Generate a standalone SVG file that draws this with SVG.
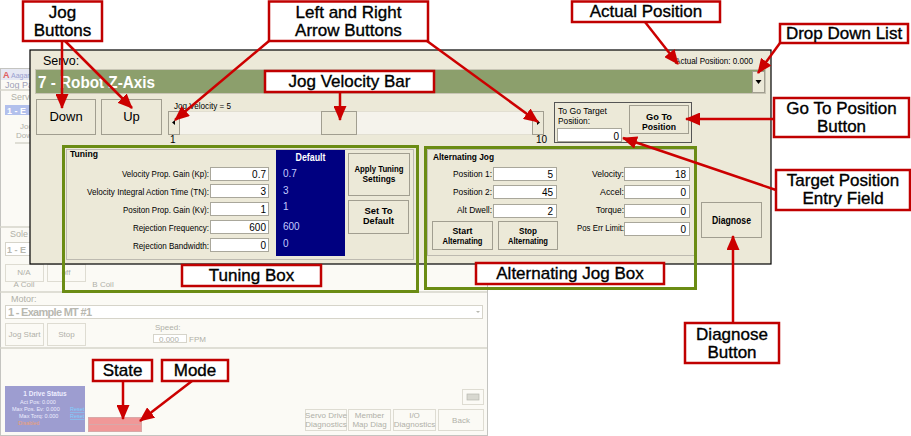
<svg xmlns="http://www.w3.org/2000/svg" width="911" height="436" viewBox="0 0 911 436">
<defs>
<marker id="ah" markerUnits="userSpaceOnUse" markerWidth="15" markerHeight="13" refX="14" refY="6.5" orient="auto"><path d="M0,0 L15,6.5 L0,13 z" fill="#cc0000"/></marker>
</defs>
<style>
text{font-family:"Liberation Sans",Arial,sans-serif}
.lbl rect{fill:#fff;stroke:#c00000;stroke-width:2.5}
.lbl text{font-size:17px;fill:#000;stroke:#000;stroke-width:0.35;text-anchor:middle}
#connectors line{stroke:#cc0000;stroke-width:2.5;marker-end:url(#ah)}
.fade{fill:#b0b0a8;font-size:8px}
.fc{text-anchor:middle}
.fbtn{fill:#fbfaf5;stroke:#dedcd2}
.fline{stroke:#d6d4ca;stroke-width:1.5}
.btn{fill:#ece9d8;stroke:#a19e90}
.fld{fill:#fff;stroke:#a9a79b}
.ui{font-size:9.5px;fill:#000}
.uib{font-size:10px;font-weight:bold;fill:#000;text-anchor:middle}
.uib2{font-size:8.5px;font-weight:bold;fill:#000;text-anchor:middle}
.val{font-size:10px;fill:#000;text-anchor:end}
.dv{font-size:10px;fill:#c4ccff}
.green{fill:none;stroke:#6b8c14;stroke-width:3}
.frame{fill:none;stroke:#bdbab0}
</style>
<rect x="0" y="0" width="911" height="436" fill="#fff"/>

<g id="background-window">
<rect x="0.5" y="68.5" width="487" height="367" fill="#fbfaf5" stroke="#c4c4c0"/>
<rect x="1" y="69" width="29" height="11" fill="#e6e8f3"/>
<text x="3" y="78" font-size="9" font-weight="bold" fill="#e06060">A</text>
<text x="11" y="78" font-size="7" fill="#9aa0d0">Aagar</text>
<text x="5" y="88" font-size="9" fill="#a0a0b8">Jog Pa</text>
<line x1="0" y1="90" x2="30" y2="90" class="fline"/>
<text x="11" y="100" font-size="9" fill="#b0b0a8">Servo</text>
<rect x="5" y="105" width="25" height="10" fill="#b2c0ec"/>
<text x="7" y="114" font-size="9" font-weight="bold" fill="#fff">1 - E</text>
<text x="20" y="129" class="fade">Jog</text>
<text x="16" y="138" class="fade">Dow</text>
<line x1="15" y1="143" x2="30" y2="143" class="fline"/>
<line x1="0" y1="227" x2="30" y2="227" class="fline"/>
<text x="10" y="237" font-size="9" fill="#b0b0a8">Sole</text>
<rect x="5.5" y="242.5" width="25" height="13" fill="#fff" stroke="#d6d4ca"/>
<text x="7" y="253" font-size="9" font-weight="bold" fill="#b8b8b0">1 - E</text>
<rect x="5.5" y="264.5" width="38" height="17" class="fbtn"/>
<text x="24" y="275" class="fade fc">N/A</text>
<rect x="47.5" y="264.5" width="38" height="17" class="fbtn"/>
<text x="66" y="275" class="fade fc">off</text>
<text x="24" y="287" class="fade fc" font-size="6">A Coil</text>
<text x="103" y="287" class="fade fc" font-size="6">B Coil</text>
<line x1="0" y1="292" x2="487" y2="292" class="fline"/>
<text x="11" y="302" font-size="9" fill="#b0b0a8">Motor:</text>
<rect x="5.5" y="305.5" width="477" height="13" fill="#fff" stroke="#d6d4ca"/>
<text x="8" y="316" font-size="11" font-weight="bold" fill="#b8b8b0" textLength="84">1 - Example MT #1</text>
<path d="M476,311 L480,311 L478,313 z" fill="#b8b8b0"/>
<rect x="5.5" y="323.5" width="38" height="22" class="fbtn"/>
<text x="24.5" y="337" class="fade fc">Jog Start</text>
<rect x="47.5" y="323.5" width="38" height="22" class="fbtn"/>
<text x="66.5" y="337" class="fade fc">Stop</text>
<text x="155" y="330" class="fade">Speed:</text>
<rect x="153.5" y="334.5" width="33" height="8" fill="#fff" stroke="#d6d4ca"/>
<text x="179" y="342" class="fade" font-size="6" text-anchor="end">0.000</text>
<text x="189" y="342" class="fade" font-size="6">FPM</text>
<line x1="0" y1="348" x2="487" y2="348" class="fline"/>
<rect x="5" y="386" width="80" height="46" fill="#9d9dd0"/>
<text x="45" y="396" font-size="6.5" font-weight="bold" fill="#eef" text-anchor="middle">1 Drive Status</text>
<text x="20" y="404" font-size="5.5" fill="#eef">Act Pos:  0.000</text>
<text x="12" y="411" font-size="5.5" fill="#eef">Max Pos. Ev: 0.000</text>
<text x="70" y="411" font-size="5.5" fill="#7fd0ff" text-decoration="underline">Reset</text>
<text x="19" y="418" font-size="5.5" fill="#eef">Max Torq: 0.000</text>
<text x="70" y="418" font-size="5.5" fill="#7fd0ff" text-decoration="underline">Reset</text>
<text x="18" y="425" font-size="5.5" fill="#f0a070">Disabled</text>
<rect x="88.5" y="417.5" width="53" height="7" fill="#f09898" stroke="#d8a8a8"/>
<rect x="88.5" y="424.5" width="53" height="7" fill="#f09898" stroke="#d8a8a8"/>
<rect x="462.5" y="389.5" width="21" height="15" class="fbtn"/>
<rect x="467" y="394" width="12" height="6" fill="#d8d8d0" stroke="#b8b8b0" stroke-width="0.7"/>
<rect x="305.5" y="409.5" width="41" height="21" class="fbtn"/>
<text x="326" y="418" class="fade fc" font-size="6.5">Servo Drive</text>
<text x="326" y="427" class="fade fc" font-size="6.5">Diagnostics</text>
<rect x="348.5" y="409.5" width="42" height="21" class="fbtn"/>
<text x="369.5" y="418" class="fade fc" font-size="6.5">Member</text>
<text x="369.5" y="427" class="fade fc" font-size="6.5">Map Diag</text>
<rect x="393.5" y="409.5" width="42" height="21" class="fbtn"/>
<text x="414.5" y="418" class="fade fc" font-size="6.5">I/O</text>
<text x="414.5" y="427" class="fade fc" font-size="6.5">Diagnostics</text>
<rect x="438.5" y="409.5" width="45" height="21" class="fbtn"/>
<text x="461" y="423" class="fade fc" font-size="6.5">Back</text>
</g>

<g id="servo-panel">
<rect x="30" y="50" width="741" height="214" fill="#ece9d8" stroke="#000" stroke-width="1.2"/>
<text x="43" y="65" font-size="12.5">Servo:</text>
<text x="675" y="64" font-size="9.5" textLength="78" lengthAdjust="spacingAndGlyphs">Actual Position: 0.000</text>
<rect x="35.5" y="69.5" width="730" height="24" fill="#8c9f6c" stroke="#c8c5b5"/>
<text x="38" y="88" font-size="16" font-weight="bold" fill="#fff" textLength="117" lengthAdjust="spacingAndGlyphs">7 - Robot Z-Axis</text>
<rect x="752.5" y="71.5" width="12" height="21" class="btn"/>
<path d="M755.5,80 L761.5,80 L758.5,84 z" fill="#000"/>
<rect x="36.5" y="99.5" width="59" height="35" class="btn"/>
<text x="66" y="121" font-size="13" text-anchor="middle">Down</text>
<rect x="101.5" y="99.5" width="60" height="35" class="btn"/>
<text x="131.5" y="121" font-size="13" text-anchor="middle">Up</text>
<text x="174" y="109" font-size="9" textLength="57" lengthAdjust="spacingAndGlyphs">Jog Velocity = 5</text>
<rect x="168.5" y="111.5" width="375" height="23" fill="#f5f3ec" stroke="#e2dfd2"/>
<rect x="168.5" y="111.5" width="11" height="23" class="btn"/>
<path d="M175,120 L172,122.5 L175,125 z" fill="#000"/>
<rect x="321.5" y="111.5" width="35" height="23" class="btn"/>
<rect x="532.5" y="111.5" width="11" height="23" class="btn"/>
<path d="M537,120 L540,122.5 L537,125 z" fill="#000"/>
<text x="170" y="143" font-size="10">1</text>
<text x="536" y="143" font-size="10">10</text>
<rect x="554.5" y="102.5" width="137" height="40" fill="none" stroke="#555"/>
<text x="558" y="113.5" font-size="8.5" textLength="49" lengthAdjust="spacingAndGlyphs">To Go Target</text>
<text x="558" y="123.5" font-size="8.5" textLength="32" lengthAdjust="spacingAndGlyphs">Position:</text>
<rect x="557.5" y="128.5" width="64" height="13" class="fld"/>
<text x="619" y="140" class="val">0</text>
<rect x="629.5" y="105.5" width="59" height="28" class="btn"/>
<text x="659" y="120" class="uib2" textLength="26" lengthAdjust="spacingAndGlyphs">Go To</text>
<text x="659" y="130" class="uib2" textLength="34" lengthAdjust="spacingAndGlyphs">Position</text>

<rect x="66.5" y="149.5" width="347" height="110" class="frame"/>
<text x="70" y="157" class="ui" font-weight="bold" textLength="28" lengthAdjust="spacingAndGlyphs">Tuning</text>
<text x="122" y="177" class="ui" textLength="87" lengthAdjust="spacingAndGlyphs">Velocity Prop. Gain (Kp):</text>
<text x="87" y="195" class="ui" textLength="122" lengthAdjust="spacingAndGlyphs">Velocity Integral Action Time (TN):</text>
<text x="123" y="213" class="ui" textLength="86" lengthAdjust="spacingAndGlyphs">Positon Prop. Gain (Kv):</text>
<text x="133" y="231" class="ui" textLength="76" lengthAdjust="spacingAndGlyphs">Rejection Frequency:</text>
<text x="133" y="249" class="ui" textLength="76" lengthAdjust="spacingAndGlyphs">Rejection Bandwidth:</text>
<rect x="210.5" y="167.5" width="58" height="13" class="fld"/>
<rect x="210.5" y="184.5" width="58" height="13" class="fld"/>
<rect x="210.5" y="202.5" width="58" height="13" class="fld"/>
<rect x="210.5" y="220.5" width="58" height="13" class="fld"/>
<rect x="210.5" y="238.5" width="58" height="13" class="fld"/>
<text x="266" y="178" class="val">0.7</text>
<text x="266" y="195" class="val">3</text>
<text x="266" y="213" class="val">1</text>
<text x="266" y="231" class="val">600</text>
<text x="266" y="249" class="val">0</text>
<rect x="276" y="150" width="69" height="106" fill="#000080"/>
<text x="310.5" y="161" class="uib" style="fill:#fff" textLength="30" lengthAdjust="spacingAndGlyphs">Default</text>
<text x="283" y="177" class="dv">0.7</text>
<text x="283" y="194" class="dv">3</text>
<text x="283" y="210" class="dv">1</text>
<text x="283" y="230" class="dv">600</text>
<text x="283" y="247" class="dv">0</text>
<rect x="348.5" y="153.5" width="61" height="42" class="btn"/>
<text x="379" y="172" class="uib2" textLength="49" lengthAdjust="spacingAndGlyphs">Apply Tuning</text>
<text x="379" y="182" class="uib2" textLength="33" lengthAdjust="spacingAndGlyphs">Settings</text>
<rect x="348.5" y="200.5" width="60" height="33" class="btn"/>
<text x="378.5" y="213.5" class="uib2" textLength="28" lengthAdjust="spacingAndGlyphs">Set To</text>
<text x="378.5" y="223.5" class="uib2" textLength="31" lengthAdjust="spacingAndGlyphs">Default</text>

<rect x="427.5" y="149.5" width="267" height="106" class="frame"/>
<text x="433" y="160" class="ui" font-weight="bold" textLength="61" lengthAdjust="spacingAndGlyphs">Alternating Jog</text>
<text x="453" y="177" class="ui" textLength="39" lengthAdjust="spacingAndGlyphs">Position 1:</text>
<text x="453" y="195" class="ui" textLength="39" lengthAdjust="spacingAndGlyphs">Position 2:</text>
<text x="457" y="213" class="ui" textLength="35" lengthAdjust="spacingAndGlyphs">Alt Dwell:</text>
<rect x="493.5" y="167.5" width="63" height="13" class="fld"/>
<rect x="493.5" y="185.5" width="63" height="13" class="fld"/>
<rect x="493.5" y="204.5" width="63" height="13" class="fld"/>
<text x="553" y="178" class="val">5</text>
<text x="553" y="196" class="val">45</text>
<text x="553" y="215" class="val">2</text>
<text x="592" y="177" class="ui" textLength="32" lengthAdjust="spacingAndGlyphs">Velocity:</text>
<text x="600" y="195" class="ui" textLength="24" lengthAdjust="spacingAndGlyphs">Accel:</text>
<text x="596" y="213" class="ui" textLength="28" lengthAdjust="spacingAndGlyphs">Torque:</text>
<text x="577" y="231" class="ui" textLength="47" lengthAdjust="spacingAndGlyphs">Pos Err Limit:</text>
<rect x="624.5" y="167.5" width="65" height="13" class="fld"/>
<rect x="624.5" y="185.5" width="65" height="13" class="fld"/>
<rect x="624.5" y="204.5" width="65" height="13" class="fld"/>
<rect x="624.5" y="222.5" width="65" height="13" class="fld"/>
<text x="686" y="178" class="val">18</text>
<text x="686" y="196" class="val">0</text>
<text x="686" y="215" class="val">0</text>
<text x="686" y="233" class="val">0</text>
<rect x="432.5" y="221.5" width="60" height="28" class="btn"/>
<text x="462.5" y="233.5" class="uib2" textLength="20" lengthAdjust="spacingAndGlyphs">Start</text>
<text x="462.5" y="243.5" class="uib2" textLength="40" lengthAdjust="spacingAndGlyphs">Alternating</text>
<rect x="498.5" y="221.5" width="59" height="28" class="btn"/>
<text x="528" y="233.5" class="uib2" textLength="18" lengthAdjust="spacingAndGlyphs">Stop</text>
<text x="528" y="243.5" class="uib2" textLength="40" lengthAdjust="spacingAndGlyphs">Alternating</text>
<rect x="701.5" y="202.5" width="60" height="35" class="btn"/>
<text x="731.5" y="224" class="uib" textLength="39" lengthAdjust="spacingAndGlyphs">Diagnose</text>
</g>

<g id="tuning-box"><rect x="63.5" y="146.5" width="354" height="145" class="green"/></g>
<g id="alternating-jog-box"><rect x="425.5" y="147.5" width="270" height="141" class="green"/></g>

<g id="connectors">
<line x1="62" y1="41" x2="62" y2="108"/>
<line x1="65" y1="41" x2="132" y2="108"/>
<line x1="269" y1="41" x2="175" y2="120"/>
<line x1="427" y1="41" x2="538" y2="122"/>
<line x1="340" y1="92" x2="340" y2="120"/>
<line x1="645" y1="22" x2="678" y2="64"/>
<line x1="780" y1="43" x2="758" y2="73"/>
<line x1="774" y1="119" x2="686" y2="119"/>
<line x1="776" y1="190" x2="623" y2="138"/>
<line x1="733" y1="323" x2="733" y2="236"/>
<line x1="123" y1="381" x2="123" y2="419"/>
<line x1="192" y1="381" x2="140" y2="421"/>
</g>

<g id="label-jog-buttons" class="lbl"><rect x="23" y="1.5" width="79" height="39.5"/><text x="62.5" y="18">Jog</text><text x="62.5" y="36">Buttons</text></g>
<g id="label-arrow-buttons" class="lbl"><rect x="269" y="1.5" width="159" height="39.5"/><text x="348.5" y="18">Left and Right</text><text x="348.5" y="36">Arrow Buttons</text></g>
<g id="label-jog-velocity-bar" class="lbl"><rect x="265" y="71" width="169" height="21"/><text x="349.5" y="87">Jog Velocity Bar</text></g>
<g id="label-actual-position" class="lbl"><rect x="572" y="1.5" width="148" height="20.5"/><text x="646" y="17">Actual Position</text></g>
<g id="label-drop-down-list" class="lbl"><rect x="780" y="24" width="128" height="19"/><text x="844" y="39">Drop Down List</text></g>
<g id="label-go-to-position" class="lbl"><rect x="774" y="98" width="135" height="39"/><text x="841.5" y="114">Go To Position</text><text x="841.5" y="132">Button</text></g>
<g id="label-target-position" class="lbl"><rect x="776" y="170" width="134" height="40"/><text x="843" y="186">Target Position</text><text x="843" y="204">Entry Field</text></g>
<g id="label-diagnose" class="lbl"><rect x="685" y="323" width="94" height="40"/><text x="732" y="340">Diagnose</text><text x="732" y="358">Button</text></g>
<g id="label-tuning-box" class="lbl"><rect x="182" y="265" width="139" height="21"/><text x="251.5" y="281">Tuning Box</text></g>
<g id="label-alternating-jog-box" class="lbl"><rect x="476" y="263" width="188" height="21"/><text x="570" y="279">Alternating Jog Box</text></g>
<g id="label-state" class="lbl"><rect x="93" y="360" width="59" height="21"/><text x="122.5" y="376">State</text></g>
<g id="label-mode" class="lbl"><rect x="162" y="360" width="66" height="21"/><text x="195" y="376">Mode</text></g>
</svg>
